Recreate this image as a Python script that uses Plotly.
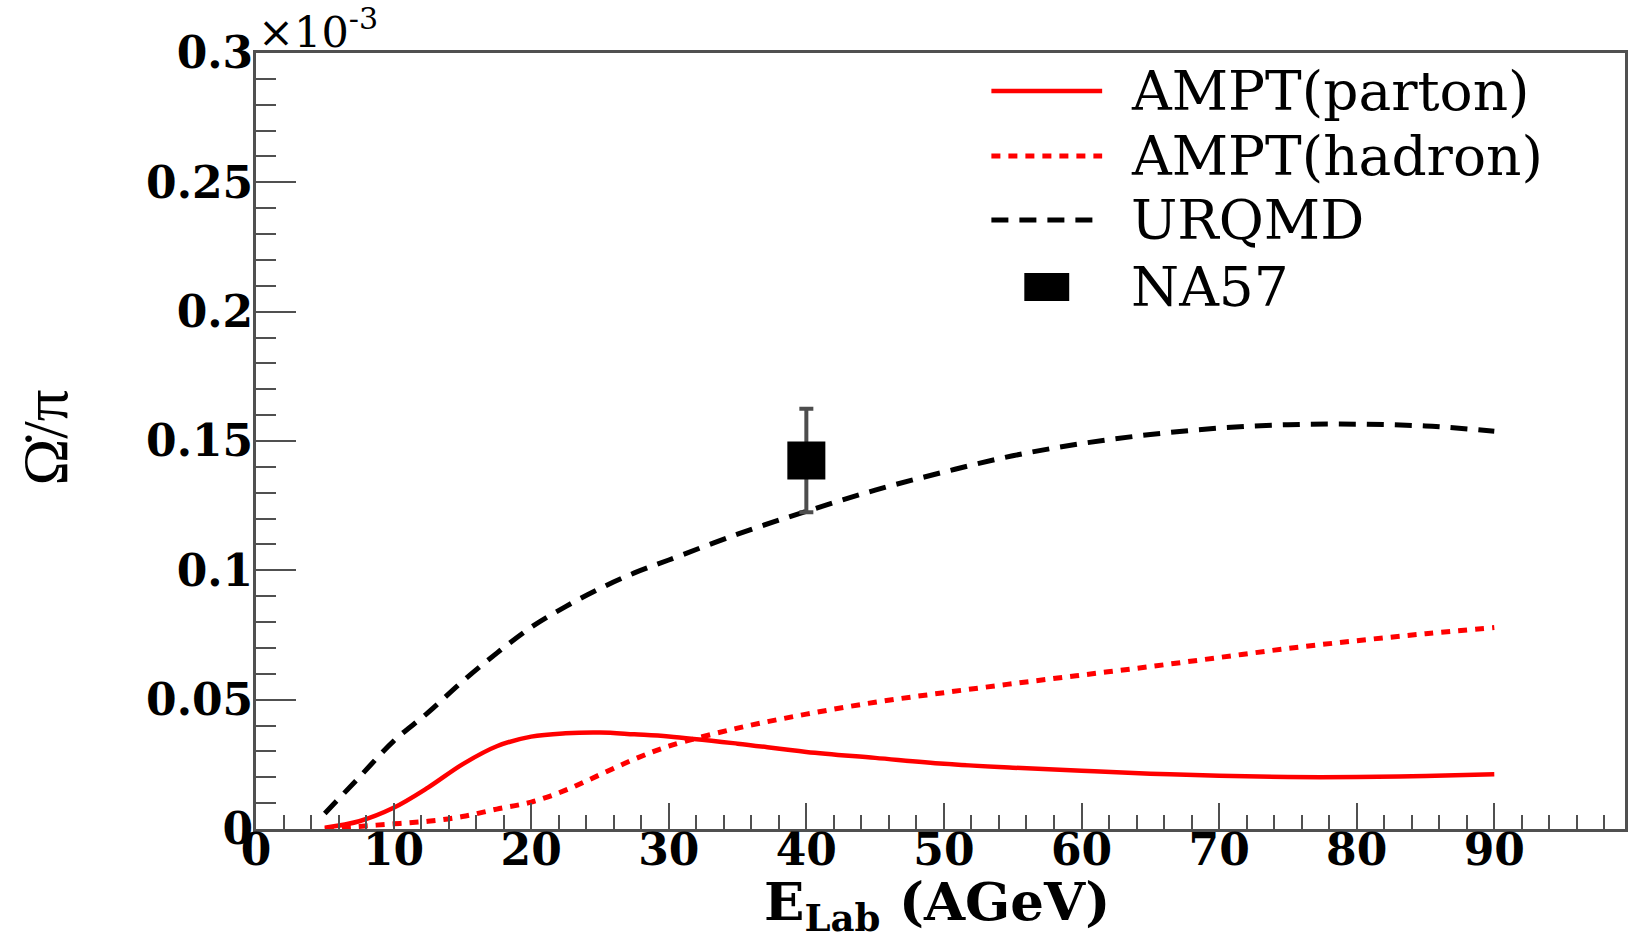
import plotly.graph_objects as go

# Beam energy grid (AGeV) for the model curves
energy = [5, 7.5, 10, 12.5, 15, 17.5, 20, 22.5, 25, 27.5, 30, 35, 40, 45,
          50, 55, 60, 65, 70, 75, 80, 85, 90]

# Omega / pi ratio, in units of 1e-3
ampt_parton = [0.0005, 0.003, 0.0082, 0.016, 0.025, 0.032, 0.0357, 0.037,
               0.0373, 0.0366, 0.0358, 0.033, 0.0298, 0.0275, 0.0252, 0.0237,
               0.0225, 0.0214, 0.0206, 0.0201, 0.0201, 0.0205, 0.0212]
ampt_hadron = [0.0, 0.001, 0.002, 0.003, 0.0048, 0.0077, 0.0104, 0.015,
               0.021, 0.027, 0.032, 0.039, 0.0444, 0.049, 0.0527, 0.0562,
               0.0595, 0.0628, 0.0663, 0.0698, 0.0728, 0.0755, 0.0779]
urqmd = [0.006, 0.020, 0.034, 0.045, 0.057, 0.068, 0.078, 0.086, 0.093,
         0.099, 0.104, 0.114, 0.1228, 0.131, 0.138, 0.1443, 0.149, 0.1525,
         0.155, 0.1563, 0.1565, 0.1558, 0.1538]

# NA57 measurement
na57_energy = [40]
na57_ratio = [0.1425]
na57_err = [0.02]

y_tickvals = [0, 0.05, 0.1, 0.15, 0.2, 0.25, 0.3]
y_ticktext = ["0", "0.05", "0.1", "0.15", "0.2", "0.25", "0.3"]

FONT = "DejaVu Serif"
TITLE_FONT = "Liberation Serif"
RED = "#ff0000"
AXIS = "#505050"

fig = go.Figure()

fig.add_trace(go.Scatter(x=energy, y=urqmd, mode="lines", name="URQMD",
                         line=dict(color="black", width=5, dash="17px,11px",
                                   shape="spline", smoothing=1.0)))
fig.add_trace(go.Scatter(x=energy, y=ampt_hadron, mode="lines", name="AMPT(hadron)",
                         line=dict(color=RED, width=5, dash="9px,8px",
                                   shape="spline", smoothing=1.0)))
fig.add_trace(go.Scatter(x=energy, y=ampt_parton, mode="lines", name="AMPT(parton)",
                         line=dict(color=RED, width=4.5, shape="spline", smoothing=1.0)))
fig.add_trace(go.Scatter(x=na57_energy, y=na57_ratio, mode="markers", name="NA57",
                         marker=dict(symbol="square", size=38, color="black",
                                     line=dict(width=0)),
                         error_y=dict(type="data", array=na57_err, visible=True,
                                      thickness=4, width=7, color="#4d4d4d")))

# plot area geometry (pixels) used to place the hand-drawn legend
L, R, T, B = 256, 2, 53, 108
W, H = 1630, 937
pw, ph = W - L - R, H - T - B


def px(xp):
    return (xp - L) / pw


def py(yp):
    return (H - B - yp) / ph


shapes = []
annotations = []
legend_rows = [
    ("AMPT(parton)", 91, dict(color=RED, width=4.5, dash="solid")),
    ("AMPT(hadron)", 156, dict(color=RED, width=5, dash="9px,8px")),
    ("URQMD", 220, dict(color="black", width=5, dash="17px,11px")),
]
for label, yrow, ln in legend_rows:
    shapes.append(dict(type="line", xref="paper", yref="paper",
                       x0=px(993), x1=px(1104), y0=py(yrow), y1=py(yrow), line=ln))
    annotations.append(dict(text=label, xref="paper", yref="paper", x=px(1131),
                            y=py(yrow), xanchor="left", yanchor="middle",
                            showarrow=False, font=dict(family=FONT, size=55, color="black")))
shapes.append(dict(type="rect", xref="paper", yref="paper",
                   x0=px(1026), x1=px(1071), y0=py(301), y1=py(273),
                   fillcolor="black", line=dict(width=0)))
annotations.append(dict(text="NA57", xref="paper", yref="paper", x=px(1131),
                        y=py(287), xanchor="left", yanchor="middle", showarrow=False,
                        font=dict(family=FONT, size=55, color="black")))

# axis titles and exponent
annotations.append(dict(text="E<sub>Lab</sub> (AGeV)", xref="paper", yref="paper",
                        x=px(938), y=py(868), xanchor="center", yanchor="top",
                        showarrow=False,
                        font=dict(family=FONT, size=53, color="black", weight="bold")))
annotations.append(dict(text="\u03A9\u0307/\u03C0", xref="paper", yref="paper",
                        x=px(46), y=py(437), xanchor="center", yanchor="middle",
                        textangle=-90, showarrow=False,
                        font=dict(family=TITLE_FONT, size=63, color="black")))
annotations.append(dict(text="\u00D710<sup>-3</sup>", xref="paper", yref="paper",
                        x=0, y=1, xanchor="left", yanchor="bottom", showarrow=False,
                        yshift=-6,
                        font=dict(family=FONT, size=43, color="black")))

fig.update_layout(
    width=W, height=H,
    margin=dict(l=L, r=R, t=T, b=B),
    paper_bgcolor="white", plot_bgcolor="white",
    showlegend=False,
    shapes=shapes, annotations=annotations,
    xaxis=dict(range=[0, 99.5], tick0=0, dtick=10, ticks="inside", ticklen=26,
               tickwidth=2, tickcolor=AXIS, showline=True, linewidth=3,
               linecolor=AXIS, mirror=True, showgrid=False, zeroline=False,
               ticklabelstandoff=-20,
               tickfont=dict(family=FONT, size=44, color="black", weight="bold"),
               minor=dict(dtick=2, ticks="inside", ticklen=14, tickwidth=2,
                          tickcolor=AXIS, showgrid=False)),
    yaxis=dict(range=[0, 0.3], tickvals=y_tickvals, ticktext=y_ticktext,
               ticks="inside", ticklen=40, tickwidth=2, tickcolor=AXIS,
               showline=True, linewidth=3, linecolor=AXIS, mirror=True,
               showgrid=False, zeroline=False, ticklabelstandoff=-9,
               tickfont=dict(family=FONT, size=44, color="black", weight="bold"),
               minor=dict(dtick=0.01, ticks="inside", ticklen=20, tickwidth=2,
                          tickcolor=AXIS, showgrid=False)),
)

fig.write_html("out.html")
